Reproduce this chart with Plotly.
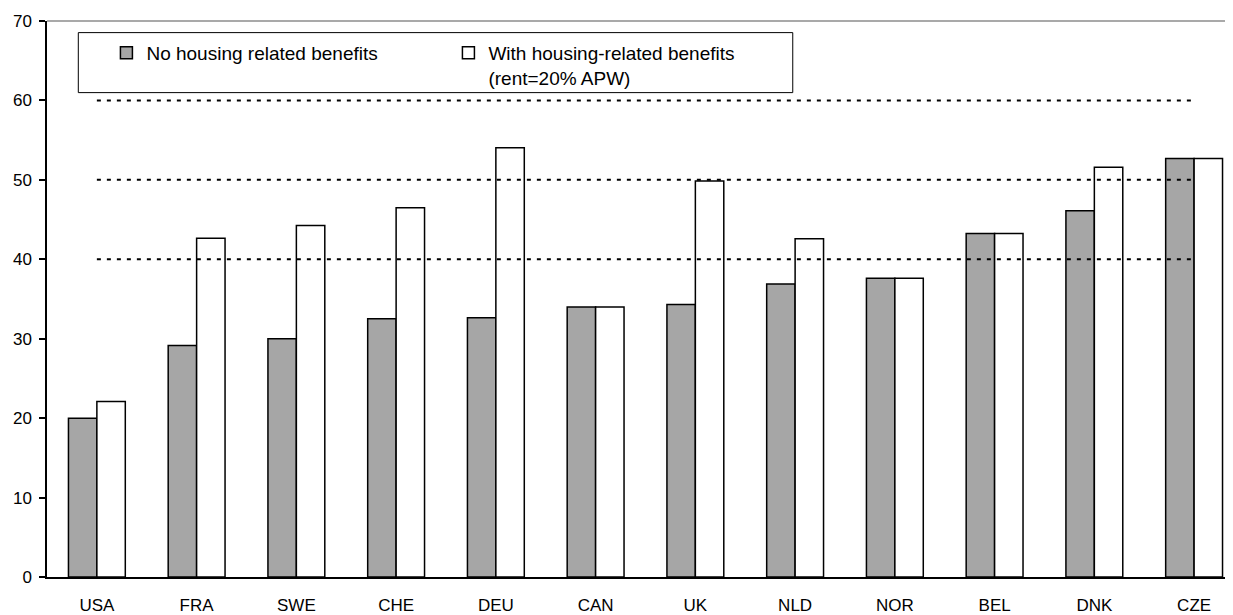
import plotly.graph_objects as go

categories = ["USA", "FRA", "SWE", "CHE", "DEU", "CAN", "UK", "NLD", "NOR", "BEL", "DNK", "CZE"]
no_housing = [20.0, 29.15, 30.0, 32.5, 32.65, 34.0, 34.3, 36.9, 37.6, 43.25, 46.1, 52.7]
with_housing = [22.1, 42.65, 44.25, 46.5, 54.05, 34.0, 49.85, 42.6, 37.6, 43.25, 51.6, 52.7]
ref_levels = [40, 50, 60]
y_ticks = [0, 10, 20, 30, 40, 50, 60, 70]

name_no = "No housing related benefits"
name_with = "With housing-related benefits<br>(rent=20% APW)"

FONT = "Liberation Sans, Arial, sans-serif"

fig = go.Figure()
fig.add_trace(go.Bar(
    x=categories, y=no_housing, name=name_no,
    marker=dict(color="#A6A6A6", line=dict(color="black", width=1.5)),
))
fig.add_trace(go.Bar(
    x=categories, y=with_housing, name=name_with,
    marker=dict(color="white", line=dict(color="black", width=1.5)),
))
for lv in ref_levels:
    fig.add_trace(go.Scatter(
        x=[categories[0], categories[-1]], y=[lv, lv], mode="lines",
        line=dict(color="black", width=2, dash="4px,6px"),
        showlegend=False, hoverinfo="skip",
    ))

fig.update_layout(
    width=1225, height=607, autosize=False,
    margin=dict(l=39, r=0, t=13, b=35),
    paper_bgcolor="white", plot_bgcolor="white",
    barmode="group", bargap=0.43, bargroupgap=0,
    font=dict(family=FONT, size=17, color="black"),
    legend=dict(
        orientation="h", x=0.0501, xanchor="left", y=0.9767, yanchor="top",
        bgcolor="rgba(0,0,0,0)", borderwidth=0,
        entrywidth=297, entrywidthmode="pixels",
        valign="top", font=dict(family=FONT, size=19, color="black"),
        traceorder="normal",
    ),
    shapes=[
        dict(type="rect", xref="paper", yref="paper",
             x0=0.0264, x1=0.6288, y0=0.8712, y1=0.9791,
             line=dict(color="black", width=1), fillcolor="white", layer="above"),
        dict(type="line", xref="paper", yref="paper", x0=0, x1=1, y0=1, y1=1,
             line=dict(color="#8C8C8C", width=1.5)),
    ],
)
fig.update_xaxes(
    range=[-0.5, 11.39], showline=True, linecolor="black", linewidth=1.5,
    ticks="", showgrid=False, zeroline=False, ticklabelstandoff=12,
    tickfont=dict(family=FONT, size=17, color="black"),
)
fig.update_yaxes(
    range=[0, 70], tickvals=y_ticks, showline=True, linecolor="black", linewidth=1.5,
    ticks="outside", ticklen=6, tickcolor="black", tickwidth=1.5,
    showgrid=False, zeroline=False, ticklabelstandoff=4,
    tickfont=dict(family=FONT, size=17, color="black"),
)

fig.write_html("out.html")
